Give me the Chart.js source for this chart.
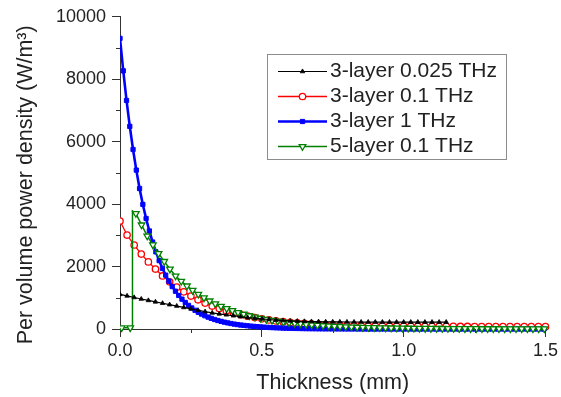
<!DOCTYPE html>
<html>
<head>
<meta charset="utf-8">
<script src="https://cdn.jsdelivr.net/npm/chart.js@4/dist/chart.umd.min.js"></script>
<style>
  html, body { margin: 0; padding: 0; background: #fff; }
  #wrap { width: 561px; height: 397px; }
</style>
</head>
<body>
<div id="wrap"><canvas id="c" width="561" height="397"></canvas></div>
<script>
/* Leistungsdichte je Volumen über der Dicke – 3-/5-Schicht-Modell */

// Reihen: Beschriftung in Legendenreihenfolge
var LABELS = ['3-layer 0.025 THz', '3-layer 0.1 THz', '3-layer 1 THz', '5-layer 0.1 THz'];

// 3-layer 0.025 THz: Raster 0 .. 1.15 mm, Schritt 0.025 mm
var BLACK_DX = 0.025;
var BLACK_Y = [
  1110, 1060, 1010, 960, 915, 870, 825, 780, 735, 690,
  645, 600, 555, 515, 485, 455, 425, 395, 365, 345,
  325, 305, 285, 270, 258, 250, 243, 238, 234, 230,
  228, 226, 225, 224, 223, 222, 222, 221, 221, 220,
  220, 220, 220, 220, 220, 220, 220
];

// 3-layer 0.1 THz: Raster 0 .. 1.5 mm, Schritt 0.025 mm
var RED_DX = 0.025;
var RED_Y = [
  3460, 3010, 2690, 2400, 2150, 1920, 1700, 1510, 1340, 1190,
  1055, 935, 830, 735, 655, 580, 515, 460, 410, 365,
  325, 290, 260, 235, 212, 193, 177, 163, 151, 141,
  132, 125, 119, 114, 110, 106, 103, 100, 97, 95,
  93, 91, 89, 87, 86, 85, 84, 83, 82, 81,
  80, 79, 79, 78, 78, 77, 77, 76, 76, 75,
  75
];

// 3-layer 1 THz: Raster 0 .. 1.5 mm, Schritt 0.0115 mm
var BLUE_DX = 0.0115;
var BLUE_Y = [
  9310, 8270, 7320, 6490, 5750, 5090, 4500, 3990, 3540, 3140,
  2785, 2470, 2190, 1945, 1725, 1530, 1360, 1210, 1075, 955,
  850, 757, 674, 600, 535, 477, 425, 380, 340, 304,
  272, 244, 218, 196, 176, 158, 142, 128, 115, 104,
  93, 84, 75, 67, 60, 54, 48, 43, 38, 34,
  30, 27, 24, 21, 18, 16, 14, 12, 10, 9,
  8, 7, 6, 5, 5, 4, 4, 3, 3, 2,
  2, 2, 2, 1, 0, 0, 0, 0, 0, 0,
  0, 0, 0, 0, 0, 0, 0, 0, 0, 0,
  0, 0, 0, 0, 0, 0, 0, 0, 0, 0,
  0, 0, 0, 0, 0, 0, 0, 0, 0, 0,
  0, 0, 0, 0, 0, 0, 0, 0, 0, 0,
  0, 0, 0, 0, 0, 0, 0, 0, 0, 0,
  0
];

// 5-layer 0.1 THz: erste Schichten (fast 0), Sprung, danach Raster ab 0.056 mm, Schritt 0.02 mm
var GREEN_HEAD_X = [0.006, 0.036, 0.044, 0.044];
var GREEN_HEAD_Y = [40, 40, 40, 3780];
var GREEN_X0 = 0.056;
var GREEN_DX = 0.02;
var GREEN_Y = [
  3700, 3335, 2980, 2695, 2420, 2165, 1920, 1700, 1530, 1380,
  1240, 1115, 1000, 900, 810, 728, 655, 590, 530, 476,
  428, 385, 346, 311, 280, 252, 226, 204, 183, 165,
  148, 134, 120, 108, 98, 88, 80, 72, 65, 59,
  54, 49, 45, 41, 38, 35, 32, 30, 28, 26,
  24, 22, 21, 20, 19, 18, 17, 16, 15, 14,
  13, 12, 12, 11, 11, 10, 10, 9, 9, 9,
  8, 8, 8
];

// Achsen
var X_TICK_STEP = 0.5, X_MIN = 0, X_MAX = 1.5;
var Y_TICK_STEP = 2000, Y_MIN = 0, Y_MAX = 10000;
var X_MINOR = [0.25, 0.75, 1.25];
var Y_MINOR = [1000, 3000, 5000, 7000, 9000];

var FONT = '"Liberation Sans", Arial, sans-serif';
var TXT = '#222';
var AXIS = '#333';

function grid(x0, dx, ys) {
  return ys.map(function (y, i) { return { x: x0 + i * dx, y: y }; });
}

var greenData = GREEN_HEAD_X.map(function (x, i) { return { x: x, y: GREEN_HEAD_Y[i] }; })
  .concat(grid(GREEN_X0, GREEN_DX, GREEN_Y));

// kleine Zwischenstriche an den Achsen (Chart.js kennt keine Minor Ticks)
var minorTicks = {
  id: 'minorTicks',
  afterDraw: function (chart) {
    var ctx = chart.ctx, a = chart.chartArea;
    var xs = chart.scales.x, ys = chart.scales.y;
    ctx.save();
    ctx.strokeStyle = AXIS;
    ctx.lineWidth = 1;
    ctx.beginPath();
    Y_MINOR.forEach(function (v) {
      var p = Math.round(ys.getPixelForValue(v)) + 0.5;
      ctx.moveTo(a.left - 4, p); ctx.lineTo(a.left, p);
    });
    X_MINOR.forEach(function (v) {
      var p = Math.round(xs.getPixelForValue(v)) + 0.5;
      ctx.moveTo(p, a.bottom); ctx.lineTo(p, a.bottom + 4);
    });
    ctx.stroke();
    ctx.restore();
  }
};

// Legende mit Rahmen, Linie + Marker wie im Original
var boxLegend = {
  id: 'boxLegend',
  afterDraw: function (chart, args, o) {
    var ctx = chart.ctx;
    ctx.save();
    ctx.fillStyle = '#fff';
    ctx.fillRect(o.x, o.y, o.w, o.h);
    ctx.strokeStyle = '#8c8c8c';
    ctx.lineWidth = 1;
    ctx.strokeRect(o.x + 0.5, o.y + 0.5, o.w, o.h);
    ctx.font = o.size + 'px ' + FONT;
    ctx.textBaseline = 'middle';
    ctx.textAlign = 'left';
    chart.data.datasets.forEach(function (ds, i) {
      var cy = o.y + o.first + i * o.row;
      ctx.strokeStyle = ds.borderColor;
      ctx.lineWidth = ds.borderWidth;
      ctx.beginPath();
      ctx.moveTo(o.x + o.line0, cy); ctx.lineTo(o.x + o.line1, cy);
      ctx.stroke();
      ctx.fillStyle = ds.pointBackgroundColor || ds.borderColor;
      ctx.lineWidth = ds.pointBorderWidth;
      Chart.helpers.drawPoint(ctx, {
        pointStyle: ds.pointStyle, radius: ds.legendR,
        rotation: ds.pointRotation || 0, borderWidth: ds.pointBorderWidth
      }, o.x + (o.line0 + o.line1) / 2, cy);
      ctx.fillStyle = TXT;
      ctx.fillText(ds.label, o.x + o.text, cy);
    });
    ctx.restore();
  }
};

var clip = { left: 0, top: 6, right: 6, bottom: 6 };

new Chart(document.getElementById('c').getContext('2d'), {
  type: 'line',
  data: {
    datasets: [
      { label: LABELS[0], data: grid(0, BLACK_DX, BLACK_Y), order: 0, clip: clip,
        borderColor: '#000', pointBackgroundColor: '#000', borderWidth: 1.2,
        pointStyle: 'triangle', pointRadius: 2.6, pointBorderWidth: 0.8, legendR: 2.6 },
      { label: LABELS[1], data: grid(0, RED_DX, RED_Y), order: 3, clip: clip,
        borderColor: '#ff0000', pointBackgroundColor: '#fff', borderWidth: 1.3,
        pointStyle: 'circle', pointRadius: 3.2, pointBorderWidth: 1.3, legendR: 3.2 },
      { label: LABELS[2], data: grid(0, BLUE_DX, BLUE_Y), order: 2, clip: clip,
        borderColor: '#0000ff', pointBackgroundColor: '#0000ff', borderWidth: 2.6,
        pointStyle: 'rect', pointRadius: 3, pointBorderWidth: 1, legendR: 3 },
      { label: LABELS[3], data: greenData, order: 1, clip: clip,
        borderColor: '#008000', pointBackgroundColor: '#fff', borderWidth: 1.5,
        pointStyle: 'triangle', pointRotation: 180, pointBorderWidth: 1.3, legendR: 3.8,
        // Punkte an der Sprungstelle ohne Marker
        pointRadius: function (c) { return (c.dataIndex === 2 || c.dataIndex === 3) ? 0 : 3.8; } }
    ]
  },
  options: {
    responsive: false,
    animation: false,
    events: [],
    layout: { padding: { top: 15, right: 13, bottom: 0, left: 0 } },
    elements: { line: { tension: 0, fill: false } },
    plugins: {
      legend: { display: false },
      tooltip: { enabled: false },
      boxLegend: { x: 267, y: 54, w: 239, h: 105, first: 17.5, row: 25,
                   line0: 11, line1: 60, text: 63, size: 21 }
    },
    scales: {
      x: {
        type: 'linear', min: X_MIN, max: X_MAX,
        afterFit: function (s) { s.height = 68; },
        ticks: { stepSize: X_TICK_STEP, autoSkip: false, maxRotation: 0, padding: 3,
                 color: TXT, font: { family: FONT, size: 18 },
                 callback: function (v) { return v.toFixed(1); } },
        grid: { drawOnChartArea: false, drawTicks: true, tickLength: 8, tickColor: AXIS },
        border: { color: AXIS, width: 1 },
        title: { display: true, text: 'Thickness (mm)', color: TXT,
                 font: { family: FONT, size: 21.5 }, padding: { top: 0, bottom: 1 } }
      },
      y: {
        min: Y_MIN, max: Y_MAX,
        afterFit: function (s) { s.width = 120; },
        ticks: { stepSize: Y_TICK_STEP, padding: 6, color: TXT, font: { family: FONT, size: 18 },
                 callback: function (v) { return String(v); } },
        grid: { drawOnChartArea: false, drawTicks: true, tickLength: 8, tickColor: AXIS },
        border: { color: AXIS, width: 1 },
        // Leerzeichen am Ende schieben den Titel etwas nach unten wie im Original
        title: { display: true, text: 'Per volume power density (W/m³)    ', color: TXT,
                 font: { family: FONT, size: 21.5 }, padding: { top: 13, bottom: 0 } }
      }
    }
  },
  plugins: [minorTicks, boxLegend]
});
</script>
</body>
</html>
